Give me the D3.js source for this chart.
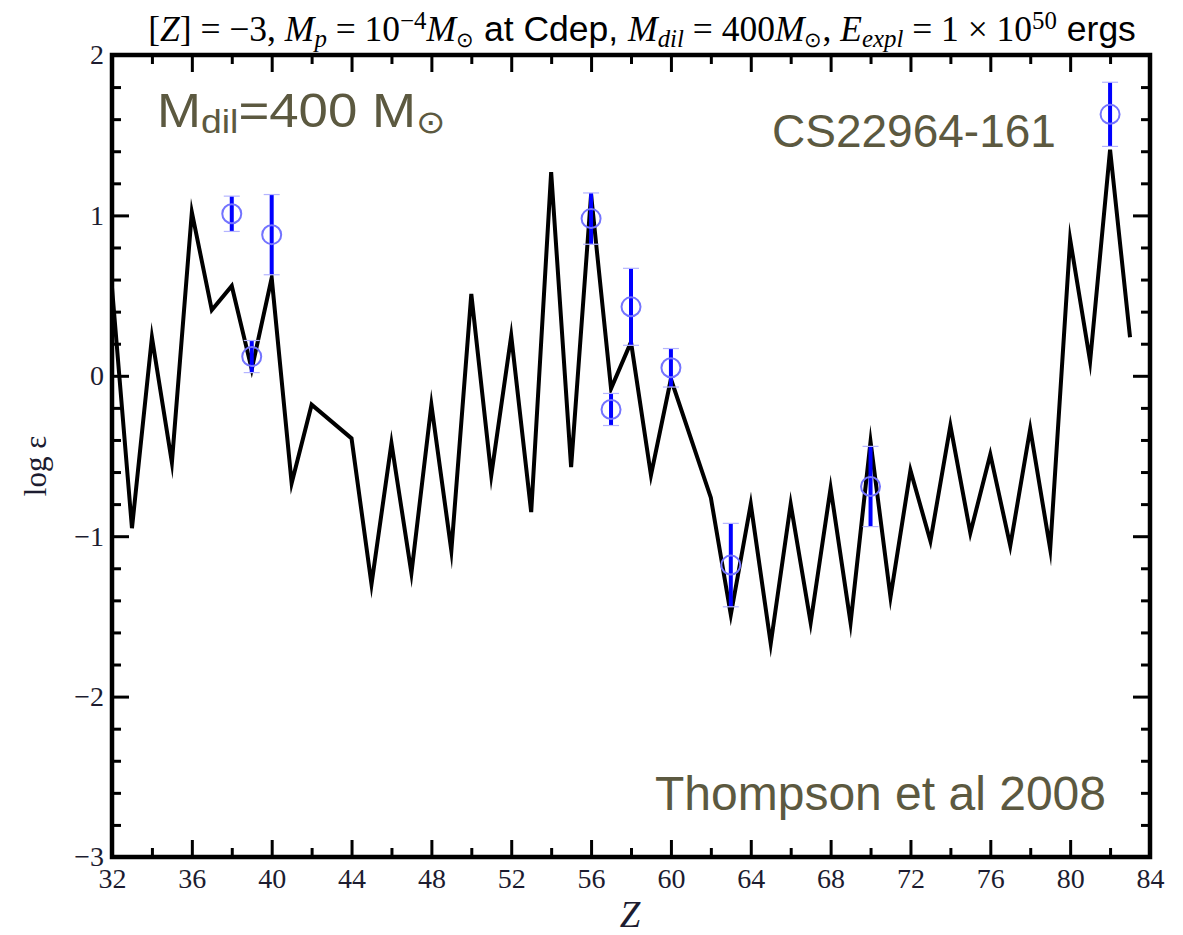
<!DOCTYPE html>
<html>
<head>
<meta charset="utf-8">
<script src="https://cdn.jsdelivr.net/npm/d3@7"></script>
<style>
  html, body { margin: 0; padding: 0; background: #fff; }
  svg { display: block; }
</style>
</head>
<body>
<svg id="chart" width="1183" height="935"></svg>
<script>
// Model abundance pattern (log eps) versus atomic number Z
const zModel = [32, 33, 34, 35, 36, 37, 38, 39, 40, 41, 42, 44, 45, 46, 47, 48, 49, 50,
  51, 52, 53, 54, 55, 56, 57, 58, 59, 60, 62, 63, 64, 65, 66, 67, 68, 69, 70, 71, 72,
  73, 74, 75, 76, 77, 78, 79, 80, 81, 82, 83];
const logModel = [0.55, -0.95, 0.24, -0.54, 1.02, 0.41, 0.56, 0.04, 0.61, -0.67, -0.18, -0.39,
  -1.30, -0.42, -1.23, -0.18, -1.09, 0.51, -0.62, 0.25, -0.85, 1.27, -0.57, 1.13, -0.08,
  0.21, -0.62, -0.02, -0.76, -1.49, -0.80, -1.67, -0.80, -1.54, -0.70, -1.54, -0.41,
  -1.38, -0.59, -1.03, -0.31, -0.98, -0.49, -1.06, -0.33, -1.08, 0.85, 0.09, 1.41, 0.24];

// Observed abundances of CS22964-161 with their uncertainties
const zObs = [38, 39, 40, 56, 57, 58, 60, 63, 70, 82];
const logObs = [1.01, 0.12, 0.88, 0.98, -0.21, 0.43, 0.05, -1.18, -0.69, 1.63];
const errObs = [0.11, 0.10, 0.25, 0.16, 0.10, 0.24, 0.12, 0.26, 0.25, 0.20];

// Axis ticks
const xMajorTicks = [32, 36, 40, 44, 48, 52, 56, 60, 64, 68, 72, 76, 80, 84];
const xMinorTicks = [34, 38, 42, 46, 50, 54, 58, 62, 66, 70, 74, 78, 82];
const yMajorTicks = [-3, -2, -1, 0, 1, 2];
const yMinorTicks = [-2.8, -2.6, -2.4, -2.2, -1.8, -1.6, -1.4, -1.2, -0.8, -0.6, -0.4, -0.2,
  0.2, 0.4, 0.6, 0.8, 1.2, 1.4, 1.6, 1.8];

const svg = d3.select("#chart");
const L = 112, R = 1150, T = 55, B = 857;
const x = d3.scaleLinear().domain([32, 84]).range([L, R]);
const y = d3.scaleLinear().domain([-3, 2]).range([B, T]);

const serif = "'Liberation Serif', 'DejaVu Serif', serif";
const sans = "'Liberation Sans', Arial, sans-serif";
const annColor = "#5c5940";
const tickColor = "#1c1c30";

// ---- axes -------------------------------------------------------------
function styleAxis(g, labels) {
  g.select(".domain").remove();
  g.selectAll(".tick line").attr("stroke", "#000").attr("stroke-width", 3);
  g.selectAll(".tick text")
    .attr("font-family", serif)
    .attr("font-size", 28)
    .attr("fill", tickColor)
    .style("display", labels ? null : "none");
}
const fmt = d => d < 0 ? "\u2212" + Math.abs(d) : String(d);

svg.append("g").attr("transform", `translate(0,${B})`)
  .call(d3.axisBottom(x).tickValues(xMajorTicks).tickSize(-17).tickPadding(11).tickFormat(fmt))
  .call(g => styleAxis(g, true));
svg.append("g").attr("transform", `translate(0,${B})`)
  .call(d3.axisBottom(x).tickValues(xMinorTicks).tickSize(-9))
  .call(g => styleAxis(g, false));
svg.append("g").attr("transform", `translate(0,${T})`)
  .call(d3.axisTop(x).tickValues(xMajorTicks).tickSize(-17))
  .call(g => styleAxis(g, false));
svg.append("g").attr("transform", `translate(0,${T})`)
  .call(d3.axisTop(x).tickValues(xMinorTicks).tickSize(-9))
  .call(g => styleAxis(g, false));

svg.append("g").attr("transform", `translate(${L},0)`)
  .call(d3.axisLeft(y).tickValues(yMajorTicks).tickSize(-17).tickPadding(8).tickFormat(fmt))
  .call(g => styleAxis(g, true));
svg.append("g").attr("transform", `translate(${L},0)`)
  .call(d3.axisLeft(y).tickValues(yMinorTicks).tickSize(-9))
  .call(g => styleAxis(g, false));
svg.append("g").attr("transform", `translate(${R},0)`)
  .call(d3.axisRight(y).tickValues(yMajorTicks).tickSize(-17))
  .call(g => styleAxis(g, false));
svg.append("g").attr("transform", `translate(${R},0)`)
  .call(d3.axisRight(y).tickValues(yMinorTicks).tickSize(-9))
  .call(g => styleAxis(g, false));

// frame
svg.append("rect")
  .attr("x", L).attr("y", T).attr("width", R - L).attr("height", B - T)
  .attr("fill", "none").attr("stroke", "#000").attr("stroke-width", 4.5);

// ---- model curve --------------------------------------------------------
const modelPts = zModel.map((z, i) => [z, logModel[i]]);
svg.append("path")
  .datum(modelPts)
  .attr("d", d3.line().x(d => x(d[0])).y(d => y(d[1])))
  .attr("fill", "none")
  .attr("stroke", "#000")
  .attr("stroke-width", 4)
  .attr("stroke-linejoin", "miter")
  .attr("stroke-miterlimit", 10);

// ---- observations -------------------------------------------------------
const obs = zObs.map((z, i) => ({ z, v: logObs[i], e: errObs[i] }));
const og = svg.append("g");
og.selectAll("line.bar").data(obs).join("line")
  .attr("class", "bar")
  .attr("x1", d => x(d.z)).attr("x2", d => x(d.z))
  .attr("y1", d => y(d.v + d.e)).attr("y2", d => y(d.v - d.e))
  .attr("stroke", "#0000ff").attr("stroke-width", 4);
og.selectAll("line.capTop").data(obs).join("line")
  .attr("class", "capTop")
  .attr("x1", d => x(d.z) - 8).attr("x2", d => x(d.z) + 8)
  .attr("y1", d => y(d.v + d.e)).attr("y2", d => y(d.v + d.e))
  .attr("stroke", "#b4b4ff").attr("stroke-width", 1.2);
og.selectAll("line.capBot").data(obs).join("line")
  .attr("class", "capBot")
  .attr("x1", d => x(d.z) - 8).attr("x2", d => x(d.z) + 8)
  .attr("y1", d => y(d.v - d.e)).attr("y2", d => y(d.v - d.e))
  .attr("stroke", "#b4b4ff").attr("stroke-width", 1.2);
og.selectAll("circle").data(obs).join("circle")
  .attr("cx", d => x(d.z)).attr("cy", d => y(d.v)).attr("r", 9.5)
  .attr("fill", "none").attr("stroke", "#7373ff").attr("stroke-width", 2);

// ---- title ---------------------------------------------------------------
// segments: [text, family, italic, shift(+ up / - down), scale]
const titleSegs = [
  ["[", "serif", false, 0, 1], ["Z", "serif", true, 0, 1], ["] = \u22123, ", "serif", false, 0, 1],
  ["M", "serif", true, 0, 1], ["p", "serif", true, -6, 0.7], [" = 10", "serif", false, 0, 1],
  ["\u22124", "serif", false, 12, 0.7], ["M", "serif", true, 0, 1], ["\u2299", "sans", false, -6, 0.6],
  [" at Cdep, ", "sans", false, 0, 1],
  ["M", "serif", true, 0, 1], ["dil", "serif", true, -6, 0.7], [" = 400", "serif", false, 0, 1],
  ["M", "serif", true, 0, 1], ["\u2299", "sans", false, -6, 0.6], [", ", "serif", false, 0, 1],
  ["E", "serif", true, 0, 1], ["expl", "serif", true, -6, 0.7], [" = 1 \u00d7 10", "serif", false, 0, 1],
  ["50", "serif", false, 12, 0.7], [" ergs", "sans", false, 0, 1]
];
const titleSize = 35.5;
const title = svg.append("text")
  .attr("x", 642).attr("y", 41)
  .attr("text-anchor", "middle")
  .attr("fill", "#000")
  .attr("font-size", titleSize)
  .style("white-space", "pre");
let prevShift = 0;
titleSegs.forEach(([t, fam, it, sh, sc]) => {
  title.append("tspan")
    .attr("font-family", fam === "sans" ? sans : serif)
    .attr("font-style", it ? "italic" : "normal")
    .attr("font-size", titleSize * sc)
    .attr("dy", -(sh - prevShift))
    .text(t);
  prevShift = sh;
});

// ---- axis labels ---------------------------------------------------------
svg.append("text")
  .attr("transform", "translate(46,466) rotate(-90)")
  .attr("text-anchor", "middle")
  .attr("font-family", serif)
  .attr("font-size", 31)
  .attr("fill", tickColor)
  .text("log \u03b5");
svg.append("text")
  .attr("x", 630).attr("y", 927)
  .attr("text-anchor", "middle")
  .attr("font-family", serif)
  .attr("font-style", "italic")
  .attr("font-size", 37)
  .attr("fill", tickColor)
  .text("Z");

// ---- annotations -------------------------------------------------------
const ann1 = svg.append("text")
  .attr("transform", "translate(157,127) scale(1.1,1)")
  .attr("font-family", sans)
  .attr("font-size", 48)
  .attr("fill", annColor)
  .style("white-space", "pre");
ann1.append("tspan").text("M");
ann1.append("tspan").attr("font-size", 34).attr("dy", 6).text("dil");
ann1.append("tspan").attr("dy", -6).text("=400 M");
ann1.append("tspan").attr("font-family", "'DejaVu Sans', sans-serif").attr("font-size", 32).attr("dy", 6).text("\u2299");

svg.append("text")
  .attr("x", 772).attr("y", 147)
  .attr("font-family", sans)
  .attr("font-size", 46)
  .attr("fill", annColor)
  .text("CS22964-161");

svg.append("text")
  .attr("x", 655).attr("y", 810)
  .attr("font-family", sans)
  .attr("font-size", 48)
  .attr("fill", annColor)
  .text("Thompson et al 2008");
</script>
</body>
</html>
